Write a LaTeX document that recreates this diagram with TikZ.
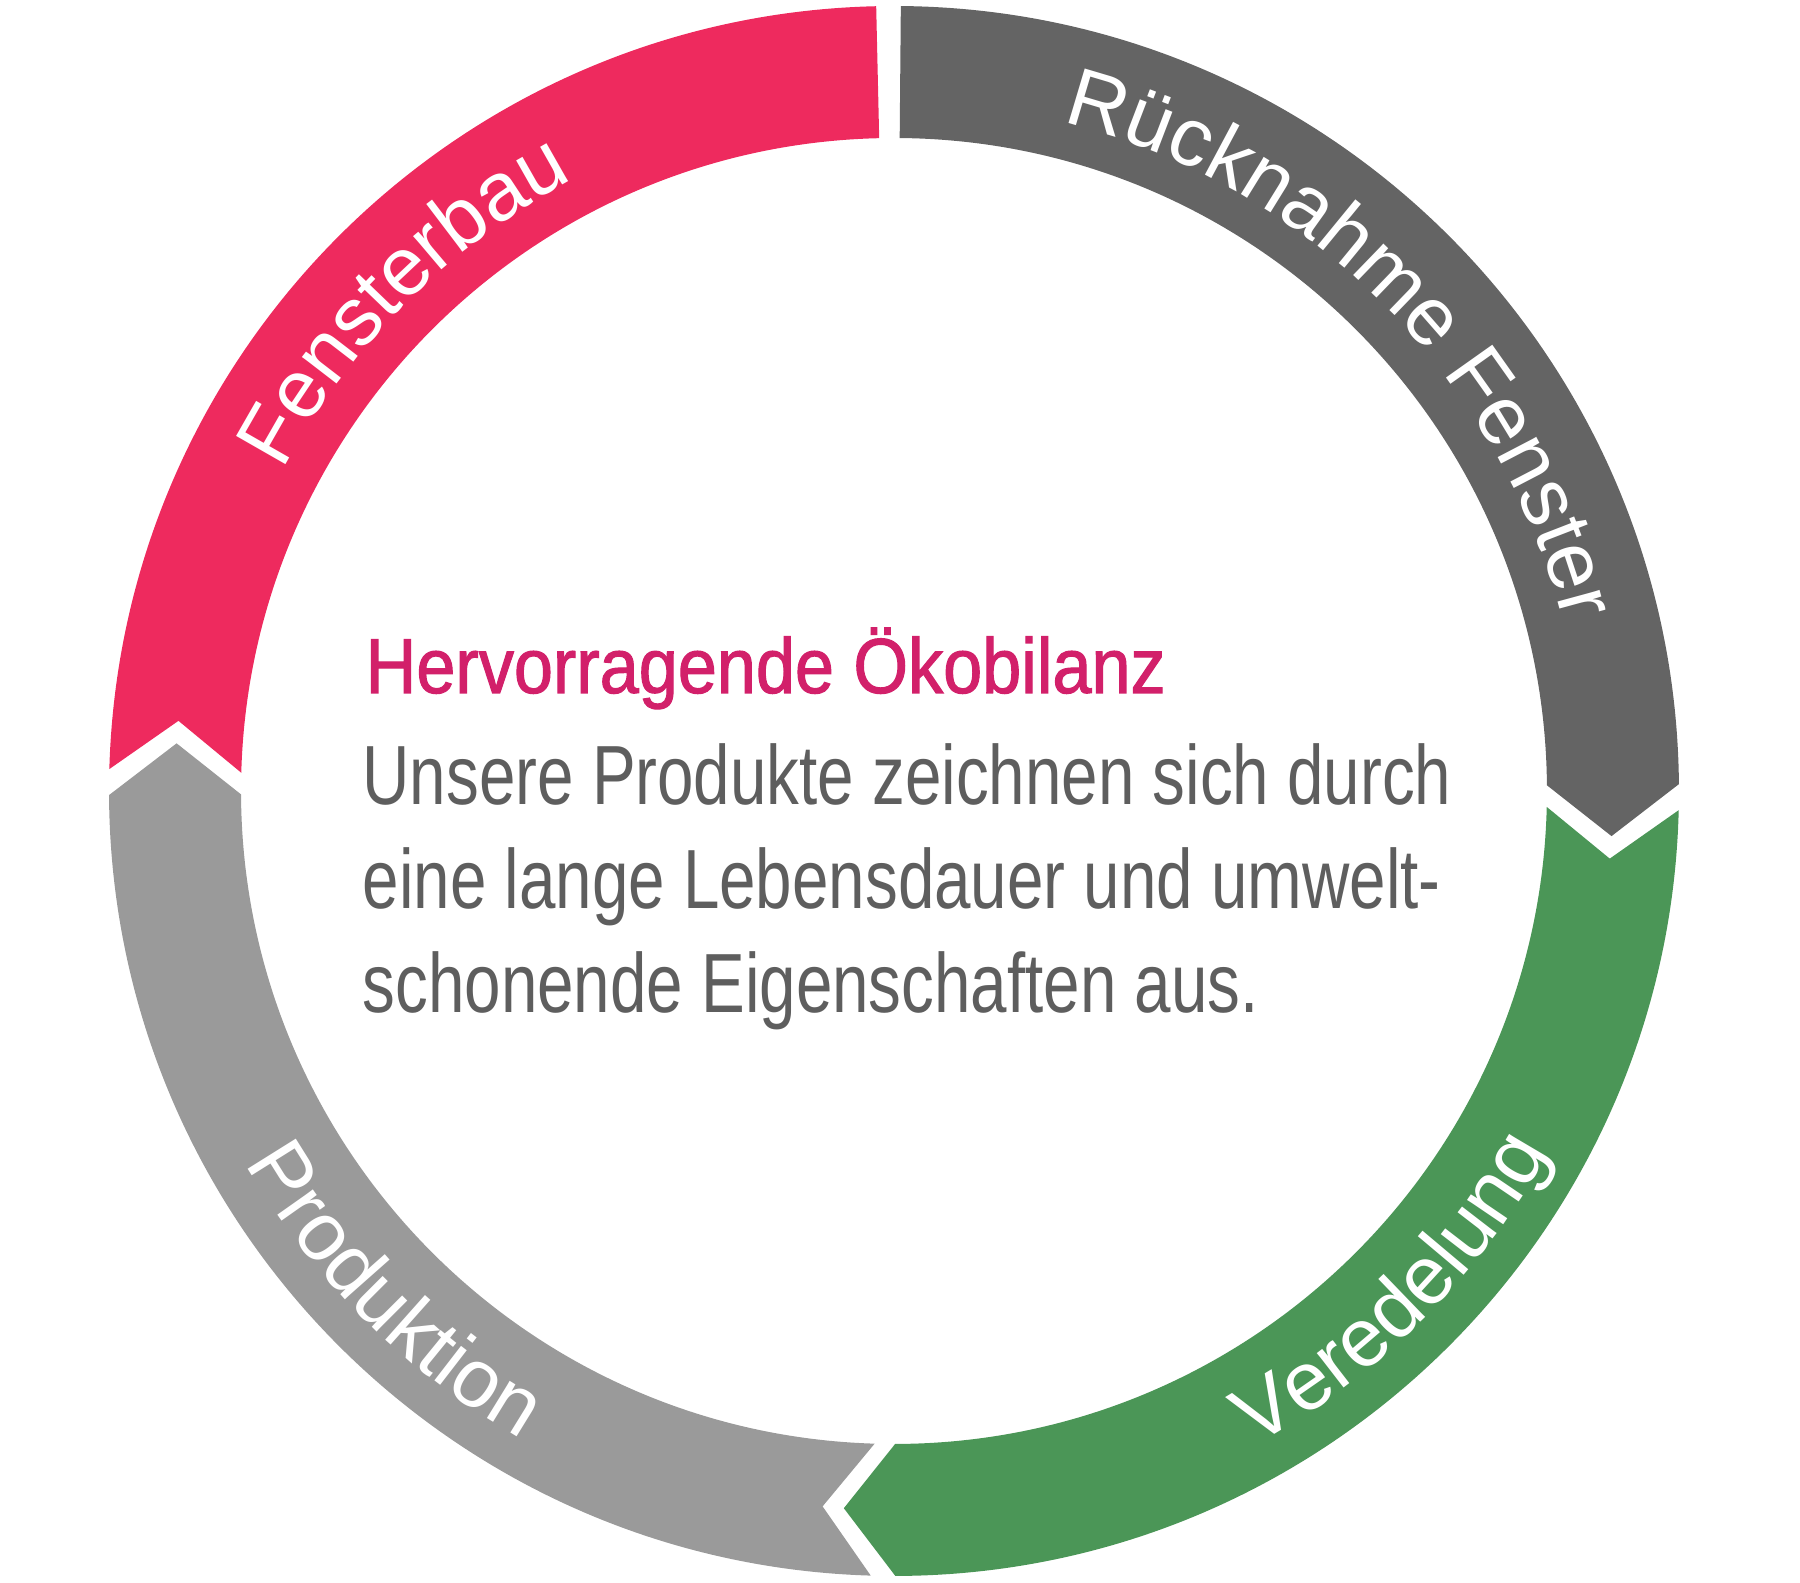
\documentclass[tikz,border=0pt]{standalone}
\usepackage{fontspec}
\setmainfont{Liberation Sans}
\newfontfamily\ringfont{Liberation Sans}
\newfontfamily\bodyfont[FakeStretch=0.78]{Liberation Sans}
\newfontfamily\headfont[FakeStretch=0.9,FakeBold=1.4]{Liberation Sans}
\usetikzlibrary{decorations.text}
\definecolor{pinkseg}{HTML}{EE2A5E}
\definecolor{darkseg}{HTML}{646464}
\definecolor{greenseg}{HTML}{4B9657}
\definecolor{lightseg}{HTML}{9A9A9A}
\definecolor{headcol}{HTML}{D2206A}
\definecolor{bodycol}{HTML}{5E5E5E}
\newcommand{\ringsize}{\fontsize{23.5pt}{28pt}\selectfont}
\newcommand{\Ro}{7.85}
\newcommand{\Ri}{6.53}
\newcommand{\Rm}{7.19}
% colour, start angle, end angle, notch depth, tip length
\newcommand{\ringseg}[5]{%
  \fill[#1] (#2:\Ro) arc[start angle=#2, end angle=#3, radius=\Ro]
    -- (#3-#5:\Rm) -- (#3:\Ri)
    arc[start angle=#3, end angle=#2, radius=\Ri]
    -- (#2-#4:\Rm) -- cycle;}
\tikzset{
  ringlabel/.style={decorate, decoration={text along path,
      text={|\ringfont\ringsize|#1}, text align=center, text color=white}},
  headstyle/.style={inner sep=0pt, anchor=base west, text=headcol,
      font=\headfont\fontsize{22.2pt}{26pt}\selectfont},
  bodystyle/.style={inner sep=0pt, anchor=base west, text=bodycol,
      font=\bodyfont\fontsize{23.9pt}{29.6pt}\selectfont}
}
\begin{document}
\begin{tikzpicture}
\useasboundingbox (-8.94,-7.92) rectangle (9.06,7.91);
\ringseg{pinkseg}{178.4}{91.3}{4.0}{0}
\ringseg{darkseg}{89.5}{0.5}{0}{4.1}
\ringseg{greenseg}{-1.4}{-89.9}{4.0}{4.1}
\ringseg{lightseg}{-91.7}{-179.7}{4.0}{4.1}
\path[ringlabel={Fensterbau}] (178:6.90) arc[start angle=178, end angle=92, radius=6.90];
\path[ringlabel={Rücknahme Fenster}] (88:6.90) arc[start angle=88, end angle=2, radius=6.90];
\path[ringlabel={Veredelung}] (-88:7.48) arc[start angle=-88, end angle=-2, radius=7.48];
\path[ringlabel={Produktion}] (182:7.48) arc[start angle=182, end angle=268, radius=7.48];
\node[headstyle] (title) at (-5.29,0.98) {Hervorragende Ökobilanz};
\node[bodystyle] (line1) at (-5.32,-0.14) {Unsere Produkte zeichnen sich durch};
\node[bodystyle] (line2) at (-5.32,-1.18) {eine lange Lebensdauer und umwelt-};
\node[bodystyle] (line3) at (-5.32,-2.22) {schonende Eigenschaften aus.};
\end{tikzpicture}
\end{document}
